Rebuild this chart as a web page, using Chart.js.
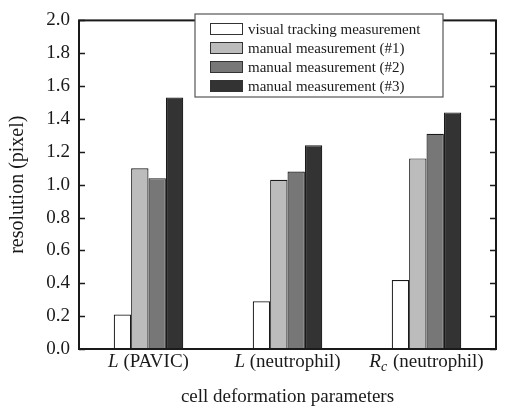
<!DOCTYPE html>
<html>
<head>
<meta charset="utf-8">
<script src="https://cdn.jsdelivr.net/npm/chart.js@4.4.1/dist/chart.umd.min.js"></script>
<style>
  html, body { margin: 0; padding: 0; background: #fff; }
  #wrap { width: 505px; height: 412px; }
</style>
</head>
<body>
<div id="wrap"><canvas id="myChart" width="505" height="412"></canvas></div>
<script>
// data
const categories = ["L (PAVIC)", "L (neutrophil)", "R_c (neutrophil)"];
const seriesNames = [
  "visual tracking measurement",
  "manual measurement (#1)",
  "manual measurement (#2)",
  "manual measurement (#3)",
];
const visualTracking = [0.21, 0.29, 0.42];
const manual1 = [1.10, 1.03, 1.16];
const manual2 = [1.04, 1.08, 1.31];
const manual3 = [1.53, 1.24, 1.44];
const yTicks = [0, 0.2, 0.4, 0.6, 0.8, 1.0, 1.2, 1.4, 1.6, 1.8, 2.0];

const fills = ["#ffffff", "#bcbcbc", "#777777", "#333333"];
const serif = "'Liberation Serif', 'Times New Roman', serif";
const ink = "#1a1a1a";

// frame, inward ticks, category labels and boxed legend
const framePlugin = {
  id: "frame",
  afterDraw(chart) {
    const { ctx, chartArea: a, scales } = chart;
    const y = scales.y, x = scales.x;
    ctx.save();
    ctx.strokeStyle = ink;
    ctx.lineWidth = 2;
    ctx.strokeRect(a.left, a.top, a.right - a.left, a.bottom - a.top);
    ctx.lineWidth = 1.5;
    ctx.beginPath();
    yTicks.forEach((v) => {
      const py = Math.round(y.getPixelForValue(v)) + 0.5;
      ctx.moveTo(a.left, py);
      ctx.lineTo(a.left + 6, py);
      ctx.moveTo(a.right, py);
      ctx.lineTo(a.right - 6, py);
    });
    ctx.stroke();

    // category labels with italic symbols
    ctx.fillStyle = ink;
    ctx.textBaseline = "alphabetic";
    categories.forEach((label, i) => {
      const sp = label.indexOf(" ");
      const sym = label.slice(0, sp);
      const rest = label.slice(sp);
      const parts = sym.split("_");
      const fIt = "italic 19px " + serif;
      const fSub = "italic 14px " + serif;
      const fReg = "19px " + serif;
      ctx.font = fIt;
      let w = ctx.measureText(parts[0]).width;
      ctx.font = fSub;
      const subW = parts[1] ? ctx.measureText(parts[1]).width + 1 : 0;
      ctx.font = fReg;
      const restW = ctx.measureText(rest).width;
      const total = w + subW + restW;
      let px = x.getPixelForValue(i) - total / 2;
      const base = 367;
      ctx.textAlign = "left";
      ctx.font = fIt;
      ctx.fillText(parts[0], px, base);
      px += w;
      if (parts[1]) {
        ctx.font = fSub;
        ctx.fillText(parts[1], px, base + 4);
        px += subW;
      }
      ctx.font = fReg;
      ctx.fillText(rest, px, base);
    });

    // legend
    const lx = 195, ly = 14, lw = 248, lh = 83;
    ctx.lineWidth = 1.2;
    ctx.strokeStyle = "#555";
    ctx.fillStyle = "#fff";
    ctx.fillRect(lx, ly, lw, lh);
    ctx.strokeRect(lx, ly, lw, lh);
    chart.data.datasets.forEach((ds, i) => {
      const cy = ly + 15 + i * 19;
      ctx.fillStyle = ds.backgroundColor;
      ctx.fillRect(210, cy - 6, 33, 12);
      ctx.strokeStyle = "#333";
      ctx.lineWidth = 1;
      ctx.strokeRect(210.5, cy - 5.5, 32, 11);
      ctx.fillStyle = ink;
      ctx.font = "15px " + serif;
      ctx.textBaseline = "middle";
      ctx.fillText(ds.label, 248, cy + 1);
    });
    ctx.restore();
  },
};

const seriesValues = [visualTracking, manual1, manual2, manual3];

new Chart(document.getElementById("myChart"), {
  type: "bar",
  data: {
    labels: categories,
    datasets: seriesValues.map((vals, i) => ({
      label: seriesNames[i],
      data: vals,
      backgroundColor: fills[i],
      borderColor: "#1a1a1a",
      borderWidth: 1.2,
      borderSkipped: "bottom",
      categoryPercentage: 0.5,
      barPercentage: 1.0,
    })),
  },
  options: {
    responsive: false,
    animation: false,
    layout: { padding: { top: 12, right: 9, left: 0, bottom: 0 } },
    plugins: { legend: { display: false }, tooltip: { enabled: false } },
    scales: {
      x: {
        grid: { display: false, drawTicks: false },
        border: { display: false },
        ticks: { display: false },
        title: {
          display: true,
          text: "cell deformation parameters",
          color: ink,
          font: { family: serif, size: 19 },
          padding: { top: 0, bottom: 4 },
        },
        afterFit(scale) { scale.height = 63; },
      },
      y: {
        min: 0,
        max: 2,
        grid: { display: false, drawTicks: false },
        border: { display: false },
        afterBuildTicks(scale) { scale.ticks = yTicks.map((v) => ({ value: v })); },
        ticks: {
          color: ink,
          padding: 9,
          font: { family: serif, size: 19 },
          callback: (v) => Number(v).toFixed(1),
        },
        title: {
          display: true,
          text: "resolution (pixel)",
          color: ink,
          font: { family: serif, size: 20 },
          padding: { top: 6, bottom: 0 },
        },
        afterFit(scale) { scale.width = 79; },
      },
    },
  },
  plugins: [framePlugin],
});
</script>
</body>
</html>
